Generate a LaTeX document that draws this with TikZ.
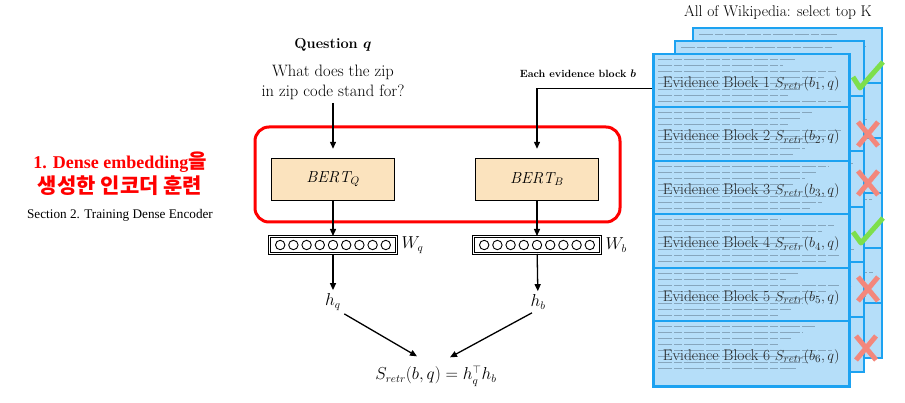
\documentclass[tikz,border=0pt]{standalone}
\usepackage{fontspec}
\usepackage{amsmath}
\usepackage{amssymb}
\usetikzlibrary{arrows.meta,positioning}
\newfontfamily\timesfont{Liberation Serif}
\newfontfamily\timesbold{Liberation Serif Bold}
\newfontfamily\krfont{Noto Sans CJK KR}
\definecolor{bertfill}{HTML}{FBE3BE}
\definecolor{sheetfill}{HTML}{B5DEF9}
\definecolor{sheetline}{HTML}{1CA2F1}
\definecolor{fillertext}{HTML}{86A6BD}
\definecolor{okgreen}{HTML}{7DDF4C}
\definecolor{nored}{HTML}{F3877C}

\begin{document}
\begin{tikzpicture}[x=1pt,y=-1pt]
  \tikzset{
    bert box/.style={draw,fill=bertfill,minimum width=123pt,minimum height=42pt,font=\fontsize{16}{18}\selectfont},
    layer box/.style={draw,line width=1pt,double,double distance=0.8pt,minimum width=127pt,minimum height=17pt,inner sep=0pt},
    flow/.style={-{Triangle[length=7pt,width=6pt]},line width=1.3pt},
    block/.style={draw=sheetline,line width=2.5pt,fill=sheetfill},
    filler/.style={fillertext,line width=0.5pt,dash pattern=on 14pt off 2pt on 8pt off 2pt on 20pt off 2pt},
    evtext/.style={font=\fontsize{15.5}{17}\selectfont,text=black!85},
    okline/.style={okgreen,line width=5pt,line join=round},
    noline/.style={nored,line width=5pt}
  }
  \useasboundingbox (0,0) rectangle (905,403);

  % left side
  \node[red,font=\timesbold\fontsize{18}{20}\selectfont] (goal1) at (120,162) {1. Dense embedding{\krfont\bfseries\fontsize{20}{22}\selectfont 을}};
  \node[red,font=\krfont\bfseries\fontsize{21}{23}\selectfont] (goal2) at (120,186) {생성한 인코더 훈련};
  \node[font=\timesfont\fontsize{13.2}{15}\selectfont] (section) at (120,215) {Section 2. Training Dense Encoder};

  % question side
  \node[font=\bfseries\fontsize{14.5}{16}\selectfont] (qtitle) at (333,45) {Question $\boldsymbol{q}$};
  \node[align=center,font=\fontsize{16.5}{20}\selectfont] (question) at (333,82) {What does the zip\\in zip code stand for?};
  \node[bert box] (bertq) at (333,179) {$\mathit{BERT}_Q$};
  \node[bert box] (bertb) at (537,179) {$\mathit{BERT}_B$};
  \draw[red,line width=3pt,rounded corners=14pt] (255,127) rectangle (620,222);

  \node[layer box] (layerq) at (333,245) {};
  \node[layer box] (layerb) at (537,245) {};
  \foreach \k in {-4,...,4} {
    \draw[line width=0.9pt] ({333+\k*13.2},245) circle (4.7pt);
    \draw[line width=0.9pt] ({537+\k*13.2},245) circle (4.7pt);
  }
  \node[right=1pt of layerq,font=\fontsize{16}{18}\selectfont] (wq) {$W_q$};
  \node[right=1pt of layerb,font=\fontsize{16}{18}\selectfont] (wb) {$W_b$};

  \node[font=\fontsize{16}{18}\selectfont] (hq) at (333,302) {$h_q$};
  \node[font=\fontsize{16}{18}\selectfont] (hb) at (538,302) {$h_b$};
  \node[font=\fontsize{16}{18}\selectfont] (score) at (436,376) {$S_{retr}(b,q) = h_q^{\top} h_b$};

  \node[font=\bfseries\fontsize{10.5}{12}\selectfont] (evlabel) at (578,74) {Each evidence block $\boldsymbol{b}$};

  % all of wikipedia
  \node[font=\fontsize{15.5}{17}\selectfont] (wiki) at (778,13) {All of Wikipedia: select top K};

  % back sheets
  \foreach \ya/\yb in {28/83,83/138,138/193,193/248,248/303,303/358} {
    \draw[block] (693,\ya) rectangle (882,\yb);
    \foreach \r in {0,...,7}
      \draw[filler] (699,{\ya+6+\r*6}) -- ++({110+mod(\r*47+\ya,65)},0);
  }
  \foreach \ya/\yb in {41/96,96/151,151/207,207/262,262/317,317/372} {
    \draw[block] (675,\ya) rectangle (864,\yb);
    \foreach \r in {0,...,7}
      \draw[filler] (681,{\ya+6+\r*6}) -- ++({110+mod(\r*41+\ya,65)},0);
  }

  % front sheet with the evidence blocks
  \foreach \i/\ya/\h in {1/53/53,2/106/54,3/160/53,4/213/54,5/267/53,6/320/65} {
    \node[block,anchor=north west,minimum width=196pt,minimum height=\h] (blk\i) at (652,\ya) {};
    \foreach \r in {0,...,7}
      \draw[filler] (658,{\ya+6+\r*6}) -- ++({120+mod(\r*53+\i*17,65)},0);
    \node[evtext] (ev\i) at ([yshift=-3pt]blk\i.center) {Evidence Block \i\ $S_{retr}(b_{\i},q)$};
  }

  % arrows
  \draw[flow,shorten >=9pt] (question) -- (bertq);
  \draw[flow] (bertq) -- (layerq);
  \draw[flow] (layerq) -- (hq);
  \draw[flow,shorten >=9pt] ([yshift=-8pt]blk1.west) -| (bertb.north);
  \draw[flow] (bertb) -- (layerb);
  \draw[flow] (layerb) -- (hb);
  \draw[flow] (hq.south east) -- ([xshift=-19pt,yshift=6pt]score.north);
  \draw[flow] ([xshift=-6pt]hb.south) -- ([xshift=14pt,yshift=5pt]score.north);

  % top K marks
  \draw[okline] (853,77) -- (860,88) -- (883,62);
  \draw[okline] (853,232) -- (861,243) -- (883,218);
  \foreach \cx/\cy in {868/134,868/183,868/289,866/348}
    \draw[noline] ({\cx-10},{\cy-12}) -- ({\cx+10},{\cy+12}) ({\cx+10},{\cy-12}) -- ({\cx-10},{\cy+12});
\end{tikzpicture}
\end{document}
